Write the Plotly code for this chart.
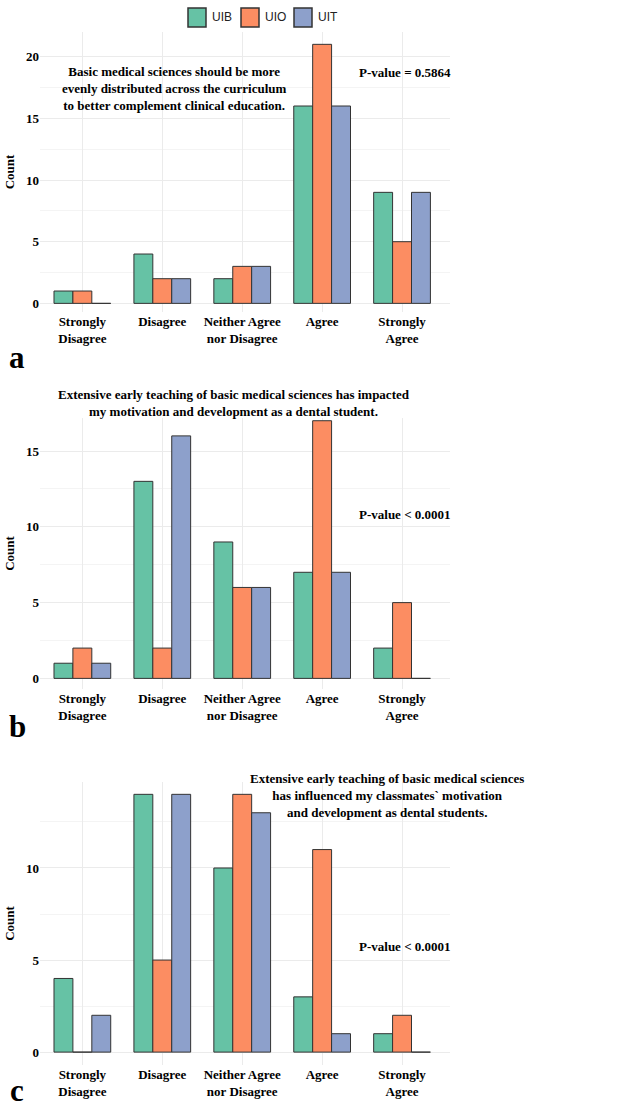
import plotly.graph_objects as go

categories = ["Strongly<br>Disagree", "Disagree", "Neither Agree<br>nor Disagree", "Agree", "Strongly<br>Agree"]
groups = ["UIB", "UIO", "UIT"]
colors = ["#66C2A5", "#FC8D62", "#8DA0CB"]

a_UIB = [1, 4, 2, 16, 9]
a_UIO = [1, 2, 3, 21, 5]
a_UIT = [0, 2, 3, 16, 9]

b_UIB = [1, 13, 9, 7, 2]
b_UIO = [2, 2, 6, 17, 5]
b_UIT = [1, 16, 6, 7, 0]

c_UIB = [4, 14, 10, 3, 1]
c_UIO = [0, 5, 14, 11, 2]
c_UIT = [2, 14, 13, 1, 0]

titles = [
    "Basic medical sciences should be more<br>evenly distributed across the curriculum<br>to better complement clinical education.",
    "Extensive early teaching of basic medical sciences has impacted<br>my motivation and development as a dental student.",
    "Extensive early teaching of basic medical sciences<br>has influenced my classmates` motivation<br>and development as dental students.",
]
pvalues = ["P-value = 0.5864", "P-value < 0.0001", "P-value < 0.0001"]
letters = ["a", "b", "c"]

W, H = 618, 1107
SERIF = "Liberation Serif"

def py(p):
    return 1 - p / H

def px(p):
    return p / W

panels = [
    dict(data=[a_UIB, a_UIO, a_UIT], top=32, bottom=312, yrange=[-0.7, 22.0], ticks=[0, 5, 10, 15, 20],
         title_xy=(174, 89), p_xy=(405, 72), letter_y=357),
    dict(data=[b_UIB, b_UIO, b_UIT], top=418, bottom=689, yrange=[-0.7, 17.18], ticks=[0, 5, 10, 15],
         title_xy=(234, 403), p_xy=(405, 514), letter_y=727),
    dict(data=[c_UIB, c_UIO, c_UIT], top=782, bottom=1065, yrange=[-0.7, 14.67], ticks=[0, 5, 10],
         title_xy=(387, 795), p_xy=(405, 946), letter_y=1090),
]

fig = go.Figure()
annotations = []
shapes = []
layout_axes = {}
for i, pan in enumerate(panels):
    n = i + 1
    xa = "x" if n == 1 else f"x{n}"
    ya = "y" if n == 1 else f"y{n}"
    for g, (name, col) in enumerate(zip(groups, colors)):
        fig.add_trace(go.Bar(
            x=categories, y=pan["data"][g], name=name, xaxis=xa, yaxis=ya,
            marker=dict(color=col, line=dict(color="#333333", width=1)),
            showlegend=False, legendgroup=name,
        ))
    layout_axes[f"xaxis{'' if n == 1 else n}"] = dict(
        domain=[px(40), px(450)], anchor=ya, range=[-0.53, 4.6],
        showgrid=True, gridcolor="#EBEBEB", gridwidth=1, showline=False, zeroline=False,
        ticks="", tickfont=dict(family=SERIF, size=13, color="black"),
        categoryorder="array", categoryarray=categories,
        tickvals=categories, ticktext=[f"<b>{c}</b>" for c in categories],
    )
    layout_axes[f"yaxis{'' if n == 1 else n}"] = dict(
        domain=[py(pan["bottom"]), py(pan["top"])], anchor=xa, range=pan["yrange"],
        tickvals=pan["ticks"], ticktext=[f"<b>{v}</b>" for v in pan["ticks"]],
        showgrid=True, gridcolor="#EBEBEB", gridwidth=1,
        minor=dict(dtick=2.5, tick0=0, showgrid=True, gridcolor="#F4F4F4", gridwidth=1),
        zeroline=False, showline=False, ticks="",
        tickfont=dict(family=SERIF, size=13, color="black"),
        title=dict(text="<b>Count</b>", font=dict(family=SERIF, size=13, color="black"), standoff=8),
    )
    tx, ty = pan["title_xy"]
    annotations.append(dict(text=f"<b>{titles[i]}</b>", x=px(tx), y=py(ty), xref="paper", yref="paper",
                            xanchor="center", yanchor="middle", showarrow=False, align="center",
                            font=dict(family=SERIF, size=13, color="black")))
    ppx, ppy = pan["p_xy"]
    annotations.append(dict(text=f"<b>{pvalues[i]}</b>", x=px(ppx), y=py(ppy), xref="paper", yref="paper",
                            xanchor="center", yanchor="middle", showarrow=False,
                            font=dict(family=SERIF, size=13, color="black")))
    annotations.append(dict(text=f"<b>{letters[i]}</b>", x=px(17), y=py(pan["letter_y"]), xref="paper", yref="paper",
                            xanchor="center", yanchor="middle", showarrow=False,
                            font=dict(family=SERIF, size=31, color="black")))

# Custom legend (key boxes + labels)
legend_box_x = [188, 241, 294]
for name, col, bx in zip(groups, colors, legend_box_x):
    shapes.append(dict(type="rect", xref="paper", yref="paper",
                       x0=px(bx), x1=px(bx + 18), y0=py(27), y1=py(8),
                       fillcolor=col, line=dict(color="#333333", width=1.5)))
    annotations.append(dict(text=name, x=px(bx + 23), y=py(17.5), xref="paper", yref="paper",
                            xanchor="left", yanchor="middle", showarrow=False, borderpad=0,
                            font=dict(family="Liberation Sans", size=12, color="#222222")))

fig.update_layout(
    width=W, height=H, margin=dict(l=0, r=0, t=0, b=0),
    paper_bgcolor="white", plot_bgcolor="white",
    barmode="group", bargap=0.29, bargroupgap=0,
    font=dict(family=SERIF, size=13, color="black"),
    showlegend=False,
    annotations=annotations,
    shapes=shapes,
    **layout_axes,
)

fig.write_html("out.html")
